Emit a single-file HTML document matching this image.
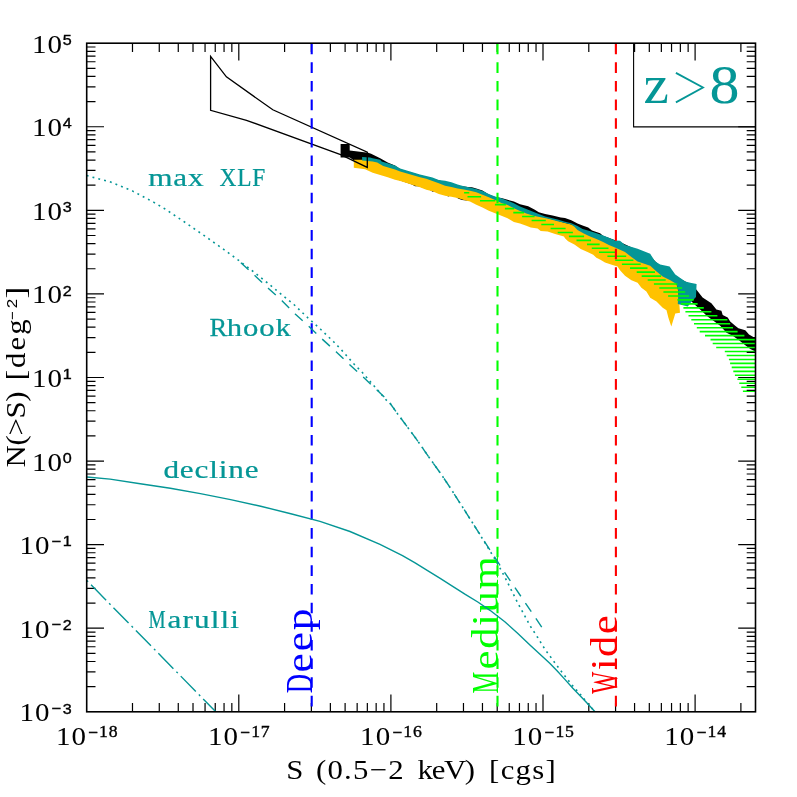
<!DOCTYPE html>
<html lang="en">
<head>
<meta charset="utf-8">
<title>N(&gt;S) log N - log S, z&gt;8</title>
<style>
html,body{margin:0;padding:0;background:#ffffff;}
body{width:797px;height:797px;overflow:hidden;position:relative;font-family:"Liberation Serif",serif;}
svg{will-change:transform;}
svg text{white-space:pre;}
</style>
</head>
<body>
<svg width="797" height="797" viewBox="0 0 797 797" style="display:block;position:absolute;left:0;top:0">
<defs>
<clipPath id="plot"><rect x="86.7" y="43.2" width="668.8" height="668.6"/></clipPath>
</defs>
<rect x="0" y="0" width="797" height="797" fill="#ffffff"/>
<g clip-path="url(#plot)">
<polygon points="340.6,144.0 349.7,144.0 349.7,150.4 368.1,152.7 371.1,153.8 380.2,158.3 387.7,162.5 395.0,165.4 400.2,169.2 420.3,175.2 440.4,180.8 460.5,186.0 468.0,187.0 472.0,187.3 476.3,188.6 482.5,190.6 488.8,194.4 495.1,196.9 501.4,198.0 507.6,199.8 513.9,201.6 520.0,204.3 528.2,206.3 534.4,209.4 538.8,212.2 545.1,214.1 552.6,215.4 560.8,217.6 565.0,218.0 571.3,220.2 577.5,223.6 582.6,225.5 588.2,227.4 592.0,230.5 600.1,233.3 603.0,235.8 620.0,242.0 650.0,256.0 660.0,266.0 675.0,276.0 690.0,284.0 695.7,288.8 702.6,297.6 711.4,303.2 716.4,309.5 721.4,310.7 722.7,315.1 727.7,317.6 730.2,321.4 735.2,325.8 738.4,328.3 745.3,330.2 749.0,334.6 755.5,338.3 755.5,351.5 750.3,349.0 745.3,345.2 739.0,340.2 732.7,335.8 726.5,332.7 720.2,325.8 712.7,320.2 707.6,316.4 700.1,309.5 695.1,305.1 690.7,300.7 670.0,296.0 640.0,278.0 600.0,254.0 560.0,231.0 540.0,227.0 520.0,219.0 500.0,212.0 480.6,205.0 469.0,200.2 466.4,200.6 462.0,199.9 458.0,198.6 456.0,196.8 451.0,195.6 448.2,196.6 446.0,195.2 440.4,193.0 435.0,191.3 432.5,191.8 430.0,190.0 420.3,186.7 418.0,186.2 415.0,186.3 412.0,184.4 400.2,180.6 380.2,174.0 368.0,168.0 354.0,160.5 349.7,157.6 340.6,157.6" fill="#000"/>
<polygon points="353.8,159.8 362.0,159.8 370.0,158.6 372.7,159.5 380.2,161.0 381.7,162.6 387.7,164.4 395.0,166.8 400.2,169.8 420.0,175.6 426.3,177.2 432.5,178.7 438.8,181.3 445.1,181.9 451.4,183.5 457.6,185.6 463.9,187.5 470.0,188.8 476.3,190.3 482.5,192.2 488.8,195.3 495.1,197.8 501.4,199.4 507.6,201.9 513.9,204.4 520.0,207.6 532.5,212.8 545.1,217.6 557.6,220.7 565.0,222.9 571.3,224.5 577.5,227.3 582.6,230.1 588.8,232.0 595.1,233.9 602.6,236.4 608.9,238.9 615.0,241.8 620.0,241.9 625.0,246.2 637.6,250.0 650.2,255.0 655.2,262.6 660.2,265.7 669.6,267.6 676.5,284.0 678.4,291.5 680.0,312.8 680.0,312.8 675.3,313.4 674.0,317.8 671.3,326.6 668.4,317.8 666.5,310.3 662.7,307.8 656.5,301.5 650.2,297.8 646.4,291.5 641.4,287.7 637.6,282.7 631.4,280.2 625.0,275.8 620.0,270.2 617.6,266.4 612.5,265.1 605.0,262.6 600.0,259.6 596.4,257.8 593.2,254.7 587.0,251.8 580.7,249.0 574.4,244.6 568.1,241.2 565.2,238.5 563.9,236.4 555.1,233.9 547.6,231.4 540.7,231.1 537.6,228.5 530.7,227.6 526.3,225.7 520.0,223.5 513.9,222.0 507.6,218.3 501.4,215.8 495.1,213.2 488.8,210.7 482.5,207.6 476.3,204.8 470.0,201.5 463.9,200.1 457.6,197.9 451.4,196.7 445.1,195.7 438.8,193.9 432.5,191.3 426.3,189.8 420.0,187.3 400.2,181.1 395.0,179.8 387.7,177.2 380.2,174.9 372.7,172.7 365.1,169.3 353.8,167.8" fill="#ffc200"/>
<polygon points="362.1,157.0 370.0,157.4 372.7,158.3 380.2,159.8 381.7,161.4 387.7,163.2 395.0,165.6 400.2,168.6 420.0,174.4 426.3,176.0 432.5,177.5 438.8,180.1 445.1,180.7 451.4,182.3 457.6,184.4 463.9,186.3 470.0,187.6 476.3,189.1 482.5,191.0 488.8,194.1 495.1,196.6 501.4,198.2 507.6,200.7 513.9,203.2 520.0,206.4 532.5,211.6 545.1,216.4 557.6,219.5 565.0,221.7 571.3,223.3 577.5,226.1 582.6,228.9 588.8,230.8 595.1,232.7 602.6,235.2 608.9,237.7 615.0,240.6 620.0,240.7 625.0,245.0 637.6,248.8 650.2,253.8 655.2,261.4 660.2,264.5 669.6,266.4 675.3,274.5 685.3,281.4 690.3,282.7 696.6,284.0 696.0,297.0 691.6,301.5 687.8,306.5 677.8,304.0 678.4,291.5 676.5,284.0 670.3,280.2 662.7,276.4 656.5,271.4 650.2,265.8 637.6,261.4 631.4,257.0 625.0,252.0 615.0,247.6 608.9,244.9 602.6,241.8 596.4,239.0 590.1,236.5 583.8,233.6 577.5,229.9 574.4,226.7 571.3,224.5 565.0,223.0 557.6,221.3 548.2,218.8 540.7,217.3 534.4,216.0 526.3,213.5 520.0,211.0 513.9,208.2 507.6,205.1 501.4,202.9 495.1,200.1 488.8,197.3 482.5,194.7 476.3,192.2 470.0,190.7 463.9,189.5 457.6,188.5 451.4,187.0 445.1,185.7 438.8,183.2 432.5,181.0 426.3,178.8 420.0,177.2 400.2,171.6 395.0,169.6 383.2,165.9 377.2,162.5 372.7,161.4 362.1,160.6" fill="#059696"/>
<g stroke="#00ff00" stroke-width="1.6" fill="none">
<path d="M464.1 192.75H469.3M467.5 196.72H481.1M480.0 200.69H495.3M494.9 204.66H505.9M504.9 208.63H514.3M513.3 212.59H524.0M522.1 216.56H534.6M531.6 220.53H545.8M541.3 224.50H554.0M550.6 228.47H565.6M557.7 232.44H572.9M568.9 236.41H584.1M576.5 240.38H591.0M587.0 244.35H599.7M591.8 248.32H608.5M599.0 252.28H616.3M607.4 256.25H626.2M615.2 260.22H633.4M621.9 264.19H640.7M630.0 268.16H647.5M636.7 272.13H655.0M641.7 276.10H661.1M647.7 280.07H665.7M653.9 284.04H677.4M659.3 288.01H682.1M663.4 291.98H685.2M668.1 295.94H689.1M677.4 299.91H693.7M680.9 303.88H697.6M683.4 307.85H703.8M685.4 311.82H711.4M688.5 315.79H717.4M691.3 319.76H727.4M694.0 323.73H730.2M696.8 327.70H733.0M699.7 331.66H737.6M705.0 335.63H744.4M710.5 339.60H755.5M712.7 343.57H755.5M716.2 347.54H755.5M724.8 351.51H755.5M726.7 355.48H755.5M728.9 359.45H755.5M730.1 363.42H755.5M731.7 367.39H755.5M733.3 371.36H755.5M734.9 375.32H755.5M737.4 379.29H755.5M739.3 383.26H755.5M741.3 387.23H755.5M742.9 391.20H755.5"/>
</g>
<polygon points="210.6,56.3 226.4,76.9 272.8,109.8 367.3,152.2 367.3,167.4 340.6,154.7 246.5,120.3 210.6,110.3" fill="none" stroke="#000" stroke-width="1.3" stroke-linejoin="miter"/>
</g>
<g stroke="#000" stroke-width="1.2" fill="none">
<path d="M132.49 711.80v-8.80M132.49 43.20v8.80"/>
<path d="M159.27 711.80v-8.80M159.27 43.20v8.80"/>
<path d="M178.27 711.80v-8.80M178.27 43.20v8.80"/>
<path d="M193.01 711.80v-8.80M193.01 43.20v8.80"/>
<path d="M205.06 711.80v-8.80M205.06 43.20v8.80"/>
<path d="M215.24 711.80v-8.80M215.24 43.20v8.80"/>
<path d="M224.06 711.80v-8.80M224.06 43.20v8.80"/>
<path d="M231.84 711.80v-8.80M231.84 43.20v8.80"/>
<path d="M238.80 711.80v-17.30M238.80 43.20v17.30"/>
<path d="M284.59 711.80v-8.80M284.59 43.20v8.80"/>
<path d="M311.37 711.80v-8.80M311.37 43.20v8.80"/>
<path d="M330.37 711.80v-8.80M330.37 43.20v8.80"/>
<path d="M345.11 711.80v-8.80M345.11 43.20v8.80"/>
<path d="M357.16 711.80v-8.80M357.16 43.20v8.80"/>
<path d="M367.34 711.80v-8.80M367.34 43.20v8.80"/>
<path d="M376.16 711.80v-8.80M376.16 43.20v8.80"/>
<path d="M383.94 711.80v-8.80M383.94 43.20v8.80"/>
<path d="M390.90 711.80v-17.30M390.90 43.20v17.30"/>
<path d="M436.69 711.80v-8.80M436.69 43.20v8.80"/>
<path d="M463.47 711.80v-8.80M463.47 43.20v8.80"/>
<path d="M482.47 711.80v-8.80M482.47 43.20v8.80"/>
<path d="M497.21 711.80v-8.80M497.21 43.20v8.80"/>
<path d="M509.26 711.80v-8.80M509.26 43.20v8.80"/>
<path d="M519.44 711.80v-8.80M519.44 43.20v8.80"/>
<path d="M528.26 711.80v-8.80M528.26 43.20v8.80"/>
<path d="M536.04 711.80v-8.80M536.04 43.20v8.80"/>
<path d="M543.00 711.80v-17.30M543.00 43.20v17.30"/>
<path d="M588.79 711.80v-8.80M588.79 43.20v8.80"/>
<path d="M615.57 711.80v-8.80M615.57 43.20v8.80"/>
<path d="M634.57 711.80v-8.80M634.57 43.20v8.80"/>
<path d="M649.31 711.80v-8.80M649.31 43.20v8.80"/>
<path d="M661.36 711.80v-8.80M661.36 43.20v8.80"/>
<path d="M671.54 711.80v-8.80M671.54 43.20v8.80"/>
<path d="M680.36 711.80v-8.80M680.36 43.20v8.80"/>
<path d="M688.14 711.80v-8.80M688.14 43.20v8.80"/>
<path d="M695.10 711.80v-17.30M695.10 43.20v17.30"/>
<path d="M740.89 711.80v-8.80M740.89 43.20v8.80"/>
<path d="M86.70 686.64h8.80M755.50 686.64h-8.80"/>
<path d="M86.70 671.92h8.80M755.50 671.92h-8.80"/>
<path d="M86.70 661.48h8.80M755.50 661.48h-8.80"/>
<path d="M86.70 653.38h8.80M755.50 653.38h-8.80"/>
<path d="M86.70 646.77h8.80M755.50 646.77h-8.80"/>
<path d="M86.70 641.17h8.80M755.50 641.17h-8.80"/>
<path d="M86.70 636.32h8.80M755.50 636.32h-8.80"/>
<path d="M86.70 632.05h8.80M755.50 632.05h-8.80"/>
<path d="M86.70 628.22h17.30M755.50 628.22h-17.30"/>
<path d="M86.70 603.07h8.80M755.50 603.07h-8.80"/>
<path d="M86.70 588.35h8.80M755.50 588.35h-8.80"/>
<path d="M86.70 577.91h8.80M755.50 577.91h-8.80"/>
<path d="M86.70 569.81h8.80M755.50 569.81h-8.80"/>
<path d="M86.70 563.19h8.80M755.50 563.19h-8.80"/>
<path d="M86.70 557.60h8.80M755.50 557.60h-8.80"/>
<path d="M86.70 552.75h8.80M755.50 552.75h-8.80"/>
<path d="M86.70 548.47h8.80M755.50 548.47h-8.80"/>
<path d="M86.70 544.65h17.30M755.50 544.65h-17.30"/>
<path d="M86.70 519.49h8.80M755.50 519.49h-8.80"/>
<path d="M86.70 504.77h8.80M755.50 504.77h-8.80"/>
<path d="M86.70 494.33h8.80M755.50 494.33h-8.80"/>
<path d="M86.70 486.23h8.80M755.50 486.23h-8.80"/>
<path d="M86.70 479.62h8.80M755.50 479.62h-8.80"/>
<path d="M86.70 474.02h8.80M755.50 474.02h-8.80"/>
<path d="M86.70 469.17h8.80M755.50 469.17h-8.80"/>
<path d="M86.70 464.90h8.80M755.50 464.90h-8.80"/>
<path d="M86.70 461.07h17.30M755.50 461.07h-17.30"/>
<path d="M86.70 435.92h8.80M755.50 435.92h-8.80"/>
<path d="M86.70 421.20h8.80M755.50 421.20h-8.80"/>
<path d="M86.70 410.76h8.80M755.50 410.76h-8.80"/>
<path d="M86.70 402.66h8.80M755.50 402.66h-8.80"/>
<path d="M86.70 396.04h8.80M755.50 396.04h-8.80"/>
<path d="M86.70 390.45h8.80M755.50 390.45h-8.80"/>
<path d="M86.70 385.60h8.80M755.50 385.60h-8.80"/>
<path d="M86.70 381.32h8.80M755.50 381.32h-8.80"/>
<path d="M86.70 377.50h17.30M755.50 377.50h-17.30"/>
<path d="M86.70 352.34h8.80M755.50 352.34h-8.80"/>
<path d="M86.70 337.62h8.80M755.50 337.62h-8.80"/>
<path d="M86.70 327.18h8.80M755.50 327.18h-8.80"/>
<path d="M86.70 319.08h8.80M755.50 319.08h-8.80"/>
<path d="M86.70 312.47h8.80M755.50 312.47h-8.80"/>
<path d="M86.70 306.87h8.80M755.50 306.87h-8.80"/>
<path d="M86.70 302.02h8.80M755.50 302.02h-8.80"/>
<path d="M86.70 297.75h8.80M755.50 297.75h-8.80"/>
<path d="M86.70 293.92h17.30M755.50 293.92h-17.30"/>
<path d="M86.70 268.77h8.80M755.50 268.77h-8.80"/>
<path d="M86.70 254.05h8.80M755.50 254.05h-8.80"/>
<path d="M86.70 243.61h8.80M755.50 243.61h-8.80"/>
<path d="M86.70 235.51h8.80M755.50 235.51h-8.80"/>
<path d="M86.70 228.89h8.80M755.50 228.89h-8.80"/>
<path d="M86.70 223.30h8.80M755.50 223.30h-8.80"/>
<path d="M86.70 218.45h8.80M755.50 218.45h-8.80"/>
<path d="M86.70 214.17h8.80M755.50 214.17h-8.80"/>
<path d="M86.70 210.35h17.30M755.50 210.35h-17.30"/>
<path d="M86.70 185.19h8.80M755.50 185.19h-8.80"/>
<path d="M86.70 170.47h8.80M755.50 170.47h-8.80"/>
<path d="M86.70 160.03h8.80M755.50 160.03h-8.80"/>
<path d="M86.70 151.93h8.80M755.50 151.93h-8.80"/>
<path d="M86.70 145.32h8.80M755.50 145.32h-8.80"/>
<path d="M86.70 139.72h8.80M755.50 139.72h-8.80"/>
<path d="M86.70 134.87h8.80M755.50 134.87h-8.80"/>
<path d="M86.70 130.60h8.80M755.50 130.60h-8.80"/>
<path d="M86.70 126.77h17.30M755.50 126.77h-17.30"/>
<path d="M86.70 101.62h8.80M755.50 101.62h-8.80"/>
<path d="M86.70 86.90h8.80M755.50 86.90h-8.80"/>
<path d="M86.70 76.46h8.80M755.50 76.46h-8.80"/>
<path d="M86.70 68.36h8.80M755.50 68.36h-8.80"/>
<path d="M86.70 61.74h8.80M755.50 61.74h-8.80"/>
<path d="M86.70 56.15h8.80M755.50 56.15h-8.80"/>
<path d="M86.70 51.30h8.80M755.50 51.30h-8.80"/>
<path d="M86.70 47.02h8.80M755.50 47.02h-8.80"/>
</g>
<line x1="311.7" y1="43.2" x2="311.7" y2="711.8" stroke="#0000ff" stroke-width="2.1" stroke-dasharray="10.6 8.03" stroke-dashoffset="-0.53"/>
<line x1="497.5" y1="43.2" x2="497.5" y2="711.8" stroke="#00ff00" stroke-width="2.1" stroke-dasharray="10.6 8.03" stroke-dashoffset="-0.53"/>
<line x1="615.9" y1="43.2" x2="615.9" y2="711.8" stroke="#ff0000" stroke-width="2.1" stroke-dasharray="10.6 8.03" stroke-dashoffset="-0.53"/>
<g font-family='"Liberation Serif", serif'>
<text transform="translate(312.20,693.30) rotate(-90) scale(0.720,1)" font-size="37" fill="#0000ff" xml:space="preserve">D</text>
<text transform="translate(312.20,672.40) rotate(-90) scale(1.170,1)" font-size="37" fill="#0000ff" letter-spacing="1.65" xml:space="preserve">eep</text>
<text transform="translate(497.60,693.40) rotate(-90) scale(0.660,1)" font-size="37" fill="#00ff00" xml:space="preserve">M</text>
<text transform="translate(497.60,669.40) rotate(-90) scale(1.150,1)" font-size="37" fill="#00ff00" letter-spacing="1.45" xml:space="preserve">edium</text>
<text transform="translate(616.80,693.80) rotate(-90) scale(0.630,1)" font-size="37" fill="#ff0000" xml:space="preserve">W</text>
<text transform="translate(616.80,670.20) rotate(-90) scale(1.150,1)" font-size="37" fill="#ff0000" letter-spacing="1.20" xml:space="preserve">ide</text>
</g>
<g clip-path="url(#plot)">
<polyline points="86.7,175.6 110.6,182.0 132.7,191.1 154.3,202.6 164.6,208.7 184.5,222.0 203.9,235.4 224.0,249.6 238.4,260.2 252.5,271.0 266.3,282.0 280.1,293.3 293.9,304.5 307.7,317.7 320.3,329.0 334.1,342.2 341.9,350.4 353.8,363.8 362.6,372.8 373.9,385.8 386.4,400.2 390.2,403.5 397.7,414.0 409.0,429.1 418.8,442.5 428.8,457.0 440.1,472.7 450.2,487.7 460.2,503.4 470.2,519.1 476.5,529.1 486.0,544.5 496.3,561.3 505.1,577.6 517.6,602.7 530.2,626.0 537.7,637.5 545.2,649.7 560.2,670.0 572.3,685.4 580.9,695.0 587.7,703.6 595.2,712.0" fill="none" stroke="#059696" stroke-width="1.6" stroke-dasharray="1.9 4.1"/>
<polyline points="240.9,262.7 255.0,275.7 268.2,288.2 282.0,300.8 295.2,314.0 309.0,326.5 322.1,339.0 336.6,352.2 349.4,364.4 363.2,377.0 376.4,389.5 384.5,397.1 390.2,403.5 397.7,414.0 409.0,429.1 418.8,442.5 428.8,457.0 440.1,472.7 450.2,487.7 460.2,503.4 470.2,519.1 476.5,529.1 490.0,550.0 505.1,573.2 521.4,597.1 542.7,628.5" fill="none" stroke="#059696" stroke-width="1.4" stroke-dasharray="10.4 8.2"/>
<polyline points="86.7,477.0 110.1,479.1 140.2,483.7 170.3,488.2 200.4,493.6 230.6,499.6 260.7,506.2 290.8,513.8 320.0,521.3 350.0,531.5 380.0,544.4 390.0,549.4 402.5,555.7 415.1,562.9 427.6,570.6 440.2,578.3 452.7,586.3 465.3,594.4 477.8,602.0 490.0,610.3 505.1,622.0 517.6,633.3 530.2,645.2 542.7,656.8 550.0,663.6 557.5,671.3 565.1,679.6 572.6,687.9 580.1,695.8 587.7,703.7 595.2,712.0" fill="none" stroke="#059696" stroke-width="1.4"/>
<polyline points="86.7,580.4 215.8,711.8" fill="none" stroke="#059696" stroke-width="1.4" stroke-dasharray="2 4.2 21.5 4.3"/>
</g>
<rect x="86.70" y="43.20" width="668.80" height="668.60" fill="none" stroke="#000" stroke-width="1.6"/>
<path d="M633.6 43.2V126.9H755.5" fill="none" stroke="#000" stroke-width="1.1"/>
<g font-family='"Liberation Serif", serif' fill="#000">
<text transform="translate(32.00,52.70) scale(1.160,1)" font-size="25" letter-spacing="0.90" xml:space="preserve">10</text>
<text transform="translate(62.70,44.90) scale(1.120,1)" font-size="14.4" font-family='"Liberation Sans", sans-serif' stroke="#000" stroke-width="0.35" xml:space="preserve">5</text>
<text transform="translate(32.00,136.27) scale(1.160,1)" font-size="25" letter-spacing="0.90" xml:space="preserve">10</text>
<text transform="translate(62.70,128.47) scale(1.120,1)" font-size="14.4" font-family='"Liberation Sans", sans-serif' stroke="#000" stroke-width="0.35" xml:space="preserve">4</text>
<text transform="translate(32.00,219.85) scale(1.160,1)" font-size="25" letter-spacing="0.90" xml:space="preserve">10</text>
<text transform="translate(62.70,212.05) scale(1.120,1)" font-size="14.4" font-family='"Liberation Sans", sans-serif' stroke="#000" stroke-width="0.35" xml:space="preserve">3</text>
<text transform="translate(32.00,303.42) scale(1.160,1)" font-size="25" letter-spacing="0.90" xml:space="preserve">10</text>
<text transform="translate(62.70,295.62) scale(1.120,1)" font-size="14.4" font-family='"Liberation Sans", sans-serif' stroke="#000" stroke-width="0.35" xml:space="preserve">2</text>
<text transform="translate(32.00,387.00) scale(1.160,1)" font-size="25" letter-spacing="0.90" xml:space="preserve">10</text>
<text transform="translate(62.70,379.20) scale(1.120,1)" font-size="14.4" font-family='"Liberation Sans", sans-serif' stroke="#000" stroke-width="0.35" xml:space="preserve">1</text>
<text transform="translate(32.00,470.57) scale(1.160,1)" font-size="25" letter-spacing="0.90" xml:space="preserve">10</text>
<text transform="translate(62.70,462.77) scale(1.120,1)" font-size="14.4" font-family='"Liberation Sans", sans-serif' stroke="#000" stroke-width="0.35" xml:space="preserve">0</text>
<text transform="translate(19.40,554.15) scale(1.160,1)" font-size="25" letter-spacing="0.90" xml:space="preserve">10</text>
<text transform="translate(51.20,545.85) scale(1.160,1)" font-size="14.4" font-family='"Liberation Sans", sans-serif' stroke="#000" stroke-width="0.35" xml:space="preserve">−</text>
<text transform="translate(62.70,546.35) scale(1.120,1)" font-size="14.4" font-family='"Liberation Sans", sans-serif' stroke="#000" stroke-width="0.35" xml:space="preserve">1</text>
<text transform="translate(19.40,637.72) scale(1.160,1)" font-size="25" letter-spacing="0.90" xml:space="preserve">10</text>
<text transform="translate(51.20,629.42) scale(1.160,1)" font-size="14.4" font-family='"Liberation Sans", sans-serif' stroke="#000" stroke-width="0.35" xml:space="preserve">−</text>
<text transform="translate(62.70,629.92) scale(1.120,1)" font-size="14.4" font-family='"Liberation Sans", sans-serif' stroke="#000" stroke-width="0.35" xml:space="preserve">2</text>
<text transform="translate(19.40,721.30) scale(1.160,1)" font-size="25" letter-spacing="0.90" xml:space="preserve">10</text>
<text transform="translate(51.20,713.00) scale(1.160,1)" font-size="14.4" font-family='"Liberation Sans", sans-serif' stroke="#000" stroke-width="0.35" xml:space="preserve">−</text>
<text transform="translate(62.70,713.50) scale(1.120,1)" font-size="14.4" font-family='"Liberation Sans", sans-serif' stroke="#000" stroke-width="0.35" xml:space="preserve">3</text>
<text transform="translate(55.90,745.00) scale(1.160,1)" font-size="25" letter-spacing="0.90" xml:space="preserve">10</text>
<text transform="translate(88.00,736.50) scale(1.160,1)" font-size="14.4" font-family='"Liberation Sans", sans-serif' stroke="#000" stroke-width="0.35" xml:space="preserve">−</text>
<text transform="translate(99.10,737.00) scale(1.120,1)" font-size="15.8" letter-spacing="0.70" stroke="#000" stroke-width="0.35" xml:space="preserve">18</text>
<text transform="translate(208.00,745.00) scale(1.160,1)" font-size="25" letter-spacing="0.90" xml:space="preserve">10</text>
<text transform="translate(240.10,736.50) scale(1.160,1)" font-size="14.4" font-family='"Liberation Sans", sans-serif' stroke="#000" stroke-width="0.35" xml:space="preserve">−</text>
<text transform="translate(251.20,737.00) scale(1.120,1)" font-size="15.8" letter-spacing="0.70" stroke="#000" stroke-width="0.35" xml:space="preserve">17</text>
<text transform="translate(360.10,745.00) scale(1.160,1)" font-size="25" letter-spacing="0.90" xml:space="preserve">10</text>
<text transform="translate(392.20,736.50) scale(1.160,1)" font-size="14.4" font-family='"Liberation Sans", sans-serif' stroke="#000" stroke-width="0.35" xml:space="preserve">−</text>
<text transform="translate(403.30,737.00) scale(1.120,1)" font-size="15.8" letter-spacing="0.70" stroke="#000" stroke-width="0.35" xml:space="preserve">16</text>
<text transform="translate(512.20,745.00) scale(1.160,1)" font-size="25" letter-spacing="0.90" xml:space="preserve">10</text>
<text transform="translate(544.30,736.50) scale(1.160,1)" font-size="14.4" font-family='"Liberation Sans", sans-serif' stroke="#000" stroke-width="0.35" xml:space="preserve">−</text>
<text transform="translate(555.40,737.00) scale(1.120,1)" font-size="15.8" letter-spacing="0.70" stroke="#000" stroke-width="0.35" xml:space="preserve">15</text>
<text transform="translate(664.30,745.00) scale(1.160,1)" font-size="25" letter-spacing="0.90" xml:space="preserve">10</text>
<text transform="translate(696.40,736.50) scale(1.160,1)" font-size="14.4" font-family='"Liberation Sans", sans-serif' stroke="#000" stroke-width="0.35" xml:space="preserve">−</text>
<text transform="translate(707.50,737.00) scale(1.120,1)" font-size="15.8" letter-spacing="0.70" stroke="#000" stroke-width="0.35" xml:space="preserve">14</text>
<text transform="translate(286.20,779.30) scale(1.120,1)" font-size="27.5" xml:space="preserve">S</text>
<text transform="translate(316.00,779.30) scale(1.120,1)" font-size="27.5" letter-spacing="1.10" xml:space="preserve">(0.5−2</text>
<text transform="translate(417.60,779.30) scale(1.120,1)" font-size="27.5" letter-spacing="-1.20" xml:space="preserve">keV)</text>
<text transform="translate(489.10,779.30) scale(1.120,1)" font-size="27.5" letter-spacing="1.15" xml:space="preserve">[cgs]</text>
<text transform="translate(25.00,467.40) rotate(-90) scale(1.120,1)" font-size="27.5" letter-spacing="-0.30" xml:space="preserve">N(&gt;S)</text>
<text transform="translate(25.00,380.20) rotate(-90) scale(1.120,1)" font-size="27.5" letter-spacing="1.80" xml:space="preserve">[deg</text>
<text transform="translate(16.90,320.00) rotate(-90)" font-size="14.5" font-family='"Liberation Sans", sans-serif' xml:space="preserve">−</text>
<text transform="translate(16.90,308.30) rotate(-90) scale(1.100,1)" font-size="15.5" font-family='"Liberation Sans", sans-serif' xml:space="preserve">2</text>
<text transform="translate(25.00,298.60) rotate(-90) scale(1.300,1)" font-size="27.5" xml:space="preserve">]</text>
</g>
<g font-family='"Liberation Serif", serif' fill="#059696">
<text transform="translate(643.60,102.80) scale(1.060,1)" font-size="54" xml:space="preserve">z</text>
<polyline points="675.9,72.9 703.0,87.5 675.9,102.4" fill="none" stroke="#059696" stroke-width="1.8"/>
<text transform="translate(709.40,102.90) scale(1.100,1)" font-size="54.5" xml:space="preserve">8</text>
<text transform="translate(148.30,185.80) scale(1.200,1)" font-size="26" letter-spacing="0.67" stroke="#059696" stroke-width="0.25" xml:space="preserve">max</text>
<text transform="translate(219.60,185.80) scale(0.900,1)" font-size="26" letter-spacing="0.83" stroke="#059696" stroke-width="0.25" xml:space="preserve">XLF</text>
<text transform="translate(209.40,336.40) scale(1.020,1)" font-size="26" stroke="#059696" stroke-width="0.25" xml:space="preserve">R</text>
<text transform="translate(226.80,336.40) scale(1.180,1)" font-size="26" letter-spacing="0.73" stroke="#059696" stroke-width="0.25" xml:space="preserve">hook</text>
<text transform="translate(163.40,478.20) scale(1.200,1)" font-size="26" letter-spacing="0.72" stroke="#059696" stroke-width="0.25" xml:space="preserve">decline</text>
<text transform="translate(148.50,628.30) scale(0.740,1)" font-size="26" stroke="#059696" stroke-width="0.25" xml:space="preserve">M</text>
<text transform="translate(167.60,628.30) scale(1.200,1)" font-size="26" letter-spacing="0.92" stroke="#059696" stroke-width="0.25" xml:space="preserve">arulli</text>
</g>
</svg>
</body>
</html>
